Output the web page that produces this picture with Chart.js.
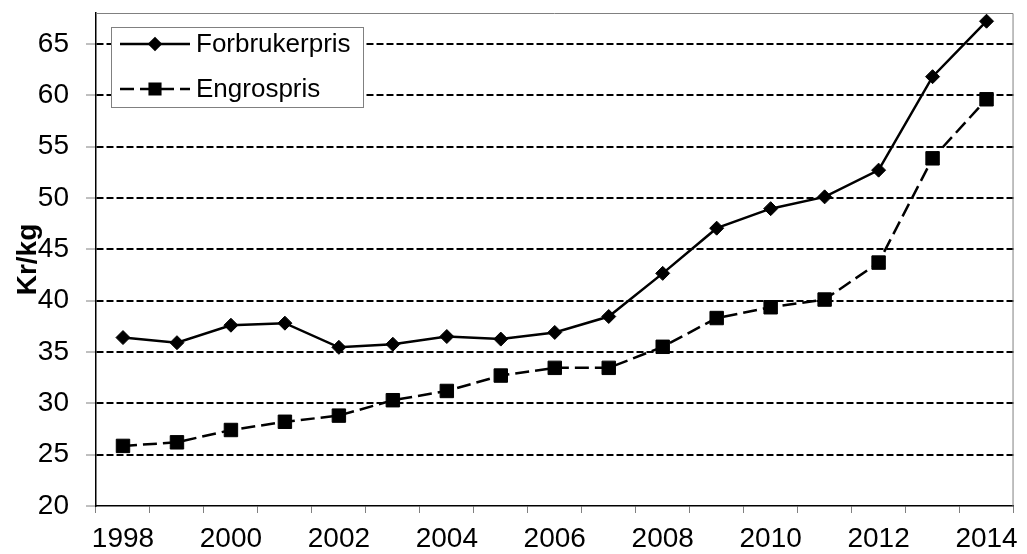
<!DOCTYPE html>
<html>
<head>
    <title>Forbrukerpris og engrospris</title>
    <script src="https://cdn.jsdelivr.net/npm/chart.js@4.4.1/dist/chart.umd.min.js"></script>
    <style>
        html, body { margin: 0; padding: 0; background: #fff; }
        #wrap { width: 1027px; height: 554px; }
    </style>
</head>
<body>
    <div id="wrap"><canvas id="chartCanvas" width="1027" height="554"></canvas></div>

    <script>
        // Data lest av grafen
        const years = ['1998', '1999', '2000', '2001', '2002', '2003', '2004', '2005', '2006',
                       '2007', '2008', '2009', '2010', '2011', '2012', '2013', '2014'];
        const forbrukerpris = [36.4, 35.9, 37.6, 37.8, 35.45, 35.75, 36.5, 36.25, 36.9,
                               38.45, 42.65, 47.05, 48.95, 50.1, 52.7, 61.8, 67.2];
        const engrospris = [25.85, 26.2, 27.4, 28.2, 28.8, 30.3, 31.2, 32.7, 33.45,
                            33.45, 35.5, 38.3, 39.35, 40.1, 43.7, 53.85, 59.6];
        const seriesNames = ['Forbrukerpris', 'Engrospris'];
        const yTitle = 'Kr/kg';

        const FONT = "'Liberation Sans', Arial, sans-serif";
        Chart.defaults.font.family = FONT;
        Chart.defaults.color = '#000';

        // Ramme rundt plottet (grå topp og høyre)
        const frame = {
            id: 'frame',
            beforeDatasetsDraw(chart) {
                const a = chart.chartArea;
                const ctx = chart.ctx;
                ctx.save();
                ctx.strokeStyle = '#808080';
                ctx.lineWidth = 1;
                ctx.beginPath();
                ctx.moveTo(a.left, a.top + 0.5);
                ctx.lineTo(a.right - 0.5, a.top + 0.5);
                ctx.lineTo(a.right - 0.5, a.bottom);
                ctx.stroke();
                ctx.restore();
            }
        };

        // Tegnforklaring inne i plottet
        const boxLegend = {
            id: 'boxLegend',
            afterDraw(chart) {
                const a = chart.chartArea;
                const ctx = chart.ctx;
                const x = a.left + 15, y = a.top + 14, w = 252, h = 80;
                ctx.save();
                ctx.fillStyle = '#fff';
                ctx.fillRect(x, y, w, h);
                ctx.strokeStyle = '#808080';
                ctx.lineWidth = 1;
                ctx.strokeRect(x + 0.5, y + 0.5, w, h);
                chart.data.datasets.forEach((ds, i) => {
                    const cy = y + 17 + i * 45;
                    const x1 = x + 9, x2 = x + 79, mx = (x1 + x2) / 2;
                    ctx.strokeStyle = '#000';
                    ctx.lineWidth = 2.5;
                    ctx.setLineDash(ds.borderDash || []);
                    ctx.beginPath();
                    ctx.moveTo(x1, cy);
                    ctx.lineTo(x2, cy);
                    ctx.stroke();
                    ctx.setLineDash([]);
                    Chart.helpers.drawPoint(ctx, {
                        pointStyle: ds.pointStyle,
                        radius: i === 0 ? 5.5 : 7.5,
                        borderWidth: 1
                    }, mx, cy);
                    ctx.fillStyle = '#000';
                    ctx.fill();
                    ctx.font = '26px ' + FONT;
                    ctx.textBaseline = 'middle';
                    ctx.textAlign = 'left';
                    ctx.fillText(ds.label, x + 85, cy + 1);
                });
                ctx.restore();
            }
        };

        const ctx = document.getElementById('chartCanvas').getContext('2d');
        const chart = new Chart(ctx, {
            type: 'line',
            data: {
                labels: years,
                datasets: [
                    {
                        label: seriesNames[0],
                        data: forbrukerpris,
                        borderColor: '#000',
                        backgroundColor: '#000',
                        borderWidth: 2.5,
                        pointStyle: 'rectRot',
                        pointRadius: 7,
                        pointBorderWidth: 1,
                        tension: 0,
                    },
                    {
                        label: seriesNames[1],
                        data: engrospris,
                        borderColor: '#000',
                        backgroundColor: '#000',
                        borderWidth: 2.5,
                        borderDash: [14, 6],
                        pointStyle: 'rect',
                        pointRadius: 9.5,
                        pointBorderWidth: 1,
                        tension: 0,
                    },
                ],
            },
            options: {
                responsive: false,
                animation: false,
                layout: { padding: { top: 13, right: 7, left: 0, bottom: 0 } },
                plugins: {
                    legend: { display: false },
                    tooltip: { enabled: false },
                },
                scales: {
                    x: {
                        type: 'category',
                        offset: true,
                        grid: {
                            offset: true,
                            drawOnChartArea: false,
                            tickLength: 7,
                            tickColor: '#808080',
                        },
                        border: { color: '#000', width: 1.5 },
                        ticks: {
                            autoSkip: false,
                            maxRotation: 0,
                            padding: 9,
                            font: { size: 28 },
                            color: '#000',
                            callback: (v, i) => (i % 2 === 0 ? years[i] : ''),
                        },
                        afterFit: (s) => { s.height = 48; },
                    },
                    y: {
                        min: 20,
                        max: 68,
                        afterBuildTicks: (s) => {
                            s.ticks = s.ticks.filter((t) => t.value % 5 === 0);
                        },
                        grid: {
                            color: (c) => (c.tick && c.tick.value === 20 ? 'rgba(0,0,0,0)' : '#000'),
                            lineWidth: 2,
                            tickLength: 10,
                            tickColor: '#808080',
                            tickWidth: 1,
                        },
                        border: { color: '#000', width: 1.5, dash: [7, 3] },
                        ticks: {
                            stepSize: 5,
                            includeBounds: false,
                            padding: 17,
                            font: { size: 28 },
                            color: '#000',
                        },
                        title: {
                            display: true,
                            text: yTitle,
                            font: { size: 28, weight: 'bold' },
                            color: '#000',
                            padding: { top: 11, bottom: 0 },
                        },
                        afterFit: (s) => {
                            s.width = 96;
                            s.paddingTop = 0;
                            s.paddingBottom = 0;
                        },
                    },
                },
            },
            plugins: [frame, boxLegend],
        });
    </script>
</body>
</html>
